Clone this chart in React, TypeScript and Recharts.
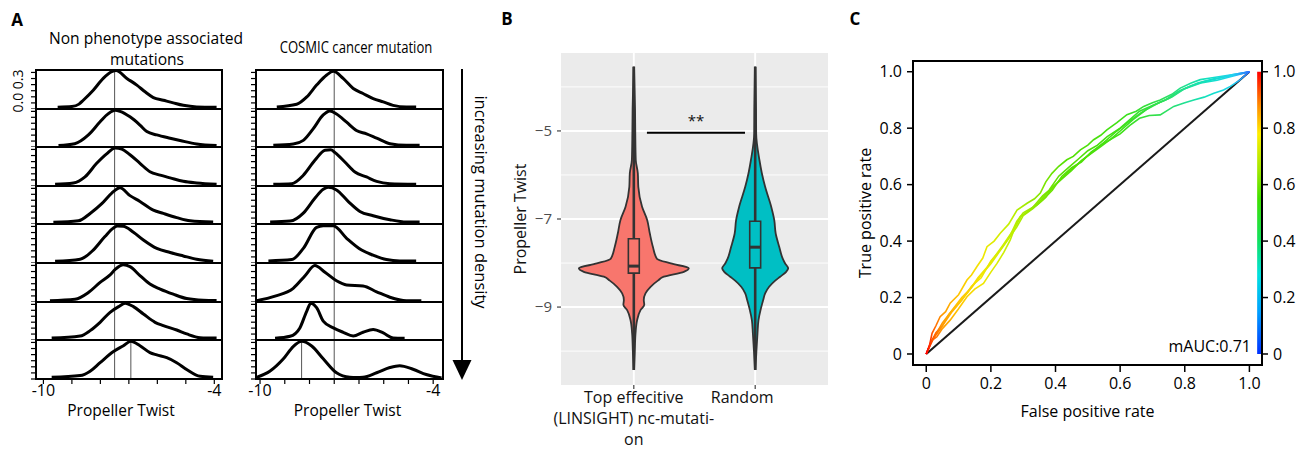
import React from 'react';
import {
  LineChart,
  Line,
  ComposedChart,
  Area,
  XAxis,
  YAxis,
  CartesianGrid,
  ReferenceLine,
  ReferenceArea,
  Label,
} from 'recharts';

const FONT = '"Open Sans", "DejaVu Sans", sans-serif';

type Pt = [number, number];

// ---------- Panel A: propeller-twist densities, low -> high mutation density ----------
const nonPheno1: Pt[] = [[-9.5,0.015],[-9.0,0.02],[-8.75,0.04],[-8.6,0.072],[-8.25,0.154],[-7.9,0.251],[-7.6,0.306],[-7.45,0.315],[-7.07,0.251],[-6.72,0.196],[-6.43,0.141],[-6.14,0.094],[-5.79,0.072],[-5.44,0.05],[-5.09,0.03],[-4.62,0.017],[-3.92,0.014]];
const nonPheno2: Pt[] = [[-9.47,0.012],[-8.9,0.028],[-8.42,0.102],[-8.01,0.212],[-7.72,0.281],[-7.48,0.309],[-7.31,0.3],[-6.96,0.254],[-6.61,0.185],[-6.37,0.13],[-6.02,0.102],[-5.55,0.074],[-5.2,0.055],[-4.62,0.025],[-3.92,0.012]];
const nonPheno3: Pt[] = [[-9.59,0.014],[-8.95,0.025],[-8.54,0.075],[-8.13,0.186],[-7.78,0.264],[-7.48,0.312],[-7.25,0.303],[-6.96,0.256],[-6.61,0.186],[-6.26,0.117],[-5.9,0.089],[-5.55,0.067],[-5.09,0.039],[-4.62,0.025],[-3.92,0.014]];
const nonPheno4: Pt[] = [[-9.65,0.014],[-8.77,0.027],[-8.36,0.089],[-7.95,0.171],[-7.6,0.26],[-7.31,0.305],[-6.96,0.239],[-6.61,0.19],[-6.14,0.117],[-5.79,0.089],[-5.32,0.054],[-4.85,0.027],[-4.04,0.016]];
const nonPheno5: Pt[] = [[-9.59,0.014],[-8.71,0.031],[-8.25,0.106],[-7.84,0.217],[-7.54,0.287],[-7.4,0.303],[-7.2,0.302],[-6.84,0.253],[-6.49,0.189],[-6.02,0.12],[-5.55,0.086],[-5.09,0.058],[-4.62,0.031],[-4.04,0.014]];
const nonPheno6: Pt[] = [[-9.77,0.01],[-8.89,0.022],[-8.42,0.078],[-8.01,0.161],[-7.66,0.223],[-7.48,0.267],[-7.19,0.305],[-6.96,0.29],[-6.61,0.217],[-6.26,0.147],[-5.9,0.106],[-5.44,0.064],[-4.97,0.028],[-4.39,0.014],[-3.92,0.012]];
const nonPheno7: Pt[] = [[-9.71,0.016],[-8.71,0.033],[-8.36,0.079],[-8.01,0.149],[-7.66,0.233],[-7.36,0.281],[-7.13,0.309],[-6.84,0.281],[-6.49,0.219],[-6.08,0.149],[-5.79,0.121],[-5.32,0.084],[-4.97,0.051],[-4.5,0.02],[-3.92,0.016]];
const nonPheno8: Pt[] = [[-9.71,0.014],[-8.71,0.028],[-8.36,0.064],[-8.01,0.134],[-7.54,0.225],[-7.19,0.273],[-6.93,0.309],[-6.61,0.273],[-6.26,0.217],[-6.02,0.198],[-5.67,0.175],[-5.32,0.134],[-4.97,0.078],[-4.5,0.022],[-4.04,0.014]];

const cosmic1: Pt[] = [[-9.42,0.017],[-8.73,0.039],[-8.38,0.099],[-8.04,0.196],[-7.69,0.279],[-7.46,0.309],[-7.12,0.251],[-6.77,0.168],[-6.43,0.127],[-6.08,0.086],[-5.73,0.058],[-5.39,0.03],[-4.93,0.017],[-4.59,0.017]];
const cosmic2: Pt[] = [[-9.54,0.014],[-8.85,0.025],[-8.5,0.056],[-8.16,0.153],[-7.81,0.27],[-7.58,0.303],[-7.35,0.278],[-7.0,0.209],[-6.66,0.139],[-6.31,0.111],[-5.96,0.075],[-5.5,0.028],[-4.93,0.014],[-4.47,0.014]];
const cosmic3: Pt[] = [[-9.54,0.014],[-8.9,0.019],[-8.5,0.088],[-8.1,0.211],[-7.75,0.293],[-7.55,0.298],[-7.4,0.274],[-7.06,0.197],[-6.71,0.115],[-6.31,0.074],[-5.96,0.038],[-5.5,0.019],[-4.59,0.014]];
const cosmic4: Pt[] = [[-9.65,0.017],[-8.96,0.025],[-8.5,0.092],[-8.1,0.217],[-7.81,0.292],[-7.64,0.309],[-7.35,0.287],[-6.94,0.189],[-6.54,0.106],[-6.08,0.07],[-5.5,0.036],[-4.93,0.017],[-4.47,0.017]];
const cosmic5: Pt[] = [[-9.71,0.017],[-8.9,0.028],[-8.5,0.12],[-8.04,0.292],[-7.81,0.306],[-7.46,0.306],[-7.0,0.203],[-6.48,0.106],[-6.08,0.064],[-5.62,0.028],[-5.16,0.017],[-4.59,0.017]];
const cosmic6: Pt[] = [[-10.12,0.011],[-9.48,0.048],[-8.85,0.112],[-8.44,0.216],[-8.1,0.3],[-7.75,0.244],[-7.35,0.174],[-7.0,0.14],[-6.43,0.132],[-5.96,0.084],[-5.5,0.039],[-4.93,0.011],[-4.41,0.011]];
const cosmic7: Pt[] = [[-9.48,0.014],[-8.96,0.031],[-8.62,0.102],[-8.38,0.244],[-8.24,0.309],[-8.04,0.272],[-7.81,0.159],[-7.46,0.102],[-7.12,0.065],[-6.77,0.034],[-6.43,0.065],[-6.08,0.088],[-5.73,0.059],[-5.39,0.017],[-4.99,0.014]];
const cosmic8: Pt[] = [[-10.12,0.014],[-9.65,0.066],[-9.19,0.166],[-8.85,0.266],[-8.56,0.309],[-8.21,0.271],[-7.81,0.166],[-7.35,0.051],[-6.89,0.014],[-6.66,0.012],[-6.43,0.014],[-5.96,0.051],[-5.5,0.094],[-5.16,0.109],[-4.7,0.08],[-4.24,0.037],[-3.71,0.009]];

const nonPhenoRows = [nonPheno1, nonPheno2, nonPheno3, nonPheno4, nonPheno5, nonPheno6, nonPheno7, nonPheno8];
const cosmicRows = [cosmic1, cosmic2, cosmic3, cosmic4, cosmic5, cosmic6, cosmic7, cosmic8];

const densityTicks = [0, 0.05, 0.1, 0.15, 0.2, 0.25, 0.3];
const nonPhenoTicks = [-10, -9, -8, -7, -6, -5, -4];
const cosmicTicks = [-10, -9.143, -8.286, -7.429, -6.571, -5.714, -4.857, -4];
const nonPhenoCenter = -7.5;
const cosmicCenter = -7.43;
const nonPhenoLastPeak = -6.93;
const cosmicLastPeak = -8.56;

// ---------- Panel B: violin half-widths along propeller twist ----------
const violinY = [-10.43, -10.0, -9.6, -9.3, -9.07, -8.95, -8.84, -8.69, -8.54, -8.4, -8.31, -8.2, -8.12, -8.01, -7.9, -7.63, -7.33, -7.02, -6.72, -6.27, -5.96, -5.66, -5.05, -4.5, -3.54];
const topEffectiveWidth = [0.002, 0.008, 0.014, 0.027, 0.055, 0.086, 0.082, 0.096, 0.138, 0.198, 0.247, 0.412, 0.453, 0.305, 0.19, 0.157, 0.132, 0.11, 0.068, 0.037, 0.033, 0.016, 0.012, 0.01, 0.002];
const randomWidth = [0.002, 0.01, 0.019, 0.027, 0.044, 0.055, 0.066, 0.082, 0.115, 0.165, 0.206, 0.255, 0.272, 0.247, 0.227, 0.198, 0.169, 0.157, 0.132, 0.082, 0.055, 0.035, 0.008, 0.007, 0.002];
const violinCategories = ['Top effecitive (LINSIGHT) nc-mutation', 'Random'];
const categoryLines = [['Top effecitive', '(LINSIGHT) nc-mutati-', 'on'], ['Random']];
// five-number summaries: [min, q1, median, q3, max]
const topEffectiveBox = [-10.43, -8.23, -8.07, -7.45, -3.54];
const randomBox = [-10.43, -8.11, -7.64, -7.05, -3.54];
const significance = { from: 1.108, to: 1.916, y: -5.04, label: '**' };

// ---------- Panel C: ROC curves of five folds ----------
const roc1: Pt[] = [[0,0],[0.01,0.03],[0.018,0.073],[0.03,0.1],[0.043,0.132],[0.06,0.15],[0.074,0.18],[0.1,0.21],[0.126,0.262],[0.14,0.28],[0.157,0.31],[0.175,0.34],[0.188,0.38],[0.21,0.4],[0.229,0.428],[0.255,0.46],[0.281,0.51],[0.312,0.534],[0.335,0.55],[0.353,0.57],[0.37,0.61],[0.389,0.64],[0.41,0.665],[0.435,0.688],[0.455,0.7],[0.477,0.723],[0.5,0.74],[0.518,0.759],[0.54,0.775],[0.559,0.794],[0.59,0.82],[0.621,0.848],[0.65,0.86],[0.673,0.877],[0.7,0.89],[0.724,0.9],[0.76,0.92],[0.786,0.942],[0.82,0.96],[0.848,0.972],[0.88,0.978],[0.91,0.983],[0.95,0.99],[1,1]];
const roc2: Pt[] = [[0,0],[0.015,0.04],[0.03,0.075],[0.05,0.1],[0.08,0.15],[0.11,0.19],[0.14,0.24],[0.17,0.27],[0.2,0.33],[0.23,0.37],[0.26,0.42],[0.28,0.47],[0.3,0.5],[0.33,0.52],[0.36,0.56],[0.38,0.58],[0.41,0.63],[0.44,0.66],[0.47,0.69],[0.5,0.72],[0.53,0.74],[0.56,0.77],[0.6,0.8],[0.63,0.83],[0.66,0.86],[0.7,0.88],[0.74,0.9],[0.78,0.93],[0.82,0.95],[0.86,0.965],[0.9,0.975],[0.95,0.99],[1,1]];
const roc3: Pt[] = [[0,0],[0.02,0.05],[0.033,0.061],[0.05,0.09],[0.074,0.12],[0.1,0.16],[0.126,0.203],[0.15,0.23],[0.177,0.25],[0.2,0.29],[0.219,0.321],[0.24,0.36],[0.26,0.404],[0.275,0.45],[0.291,0.487],[0.31,0.5],[0.332,0.522],[0.35,0.54],[0.374,0.57],[0.4,0.6],[0.435,0.64],[0.46,0.665],[0.497,0.7],[0.53,0.73],[0.559,0.759],[0.59,0.79],[0.621,0.818],[0.663,0.853],[0.7,0.88],[0.75,0.905],[0.79,0.935],[0.84,0.96],[0.89,0.975],[0.94,0.985],[1,1]];
const roc4: Pt[] = [[0,0],[0.012,0.035],[0.025,0.06],[0.045,0.09],[0.07,0.14],[0.1,0.18],[0.13,0.22],[0.16,0.27],[0.19,0.31],[0.215,0.35],[0.24,0.39],[0.27,0.44],[0.295,0.49],[0.32,0.51],[0.345,0.53],[0.37,0.555],[0.39,0.59],[0.42,0.62],[0.45,0.65],[0.48,0.685],[0.51,0.71],[0.54,0.735],[0.57,0.76],[0.6,0.79],[0.64,0.83],[0.68,0.865],[0.72,0.89],[0.76,0.91],[0.8,0.94],[0.85,0.96],[0.9,0.97],[0.95,0.985],[1,1]];
const roc5: Pt[] = [[0,0],[0.015,0.045],[0.03,0.07],[0.05,0.11],[0.08,0.155],[0.11,0.2],[0.14,0.235],[0.17,0.28],[0.2,0.32],[0.225,0.36],[0.25,0.4],[0.28,0.45],[0.3,0.49],[0.33,0.515],[0.36,0.545],[0.39,0.58],[0.42,0.63],[0.45,0.66],[0.48,0.68],[0.51,0.715],[0.54,0.74],[0.57,0.76],[0.6,0.78],[0.63,0.81],[0.66,0.835],[0.69,0.845],[0.724,0.847],[0.766,0.877],[0.8,0.89],[0.828,0.9],[0.86,0.91],[0.89,0.924],[0.92,0.935],[0.941,0.948],[0.97,0.97],[1,1]];
const rocFolds = [roc1, roc2, roc3, roc4, roc5];
const rateTicks = [0, 0.2, 0.4, 0.6, 0.8, 1];
const meanAuc = 0.71;

// jet palette used for the threshold colouring
const jetAlongCurve: [number, string][] = [[0,'#ff0000'],[0.02,'#ff5a00'],[0.05,'#ff9a00'],[0.1,'#ffc400'],[0.17,'#f2e600'],[0.25,'#c8f000'],[0.33,'#92e800'],[0.42,'#58e000'],[0.6,'#3ee014'],[0.72,'#30e050'],[0.8,'#20e092'],[0.88,'#10e0c8'],[0.95,'#20d0f0'],[1,'#2a6cff']];
const jetBar: [number, string][] = [[0,'#ff0000'],[0.12,'#ff8c00'],[0.22,'#ffee00'],[0.35,'#a0e800'],[0.45,'#40e000'],[0.6,'#10e060'],[0.72,'#00e0e0'],[0.85,'#00a0ff'],[1,'#0030ff']];

// ---------- layout ----------
const rowEdges = [70, 109, 147, 186, 224, 263, 302, 340, 379];
const AX_W = 8;

const Txt = ({ x, y, size = 15, weight = 400, rotate = 0, sx = 1, anchor = 'middle', color = '#000', children }: any) => {
  const tx = anchor === 'end' ? '-100%' : anchor === 'start' ? '0' : '-50%';
  return (
    <div
      style={{
        position: 'absolute', left: x, top: y, fontSize: size, fontWeight: weight, color,
        whiteSpace: 'nowrap', lineHeight: 1, fontFamily: FONT,
        transform: `translate(${tx}, -50%) rotate(${rotate}deg) scaleX(${sx})`,
      }}
    >
      {children}
    </div>
  );
};

function DensityColumn({ rows, left, width, domain, ticks, centerLine, lastPeak, labelDx }: any) {
  return (
    <>
      {rows.map((pts: Pt[], i: number) => {
        const top = rowEdges[i];
        const h = rowEdges[i + 1] - top;
        const last = i === rows.length - 1;
        const data = pts.map(([x, d]) => ({ x, d }));
        return (
          <div key={i} style={{ position: 'absolute', left: left - AX_W, top }}>
            <LineChart width={width + AX_W} height={last ? h + 44 : h} data={data} margin={{ top: 0, right: 0, bottom: 0, left: 0 }}>
              <XAxis
                dataKey="x" type="number" domain={domain} allowDataOverflow ticks={ticks} interval={0}
                hide={!last} height={44} tickSize={5} tickMargin={1} axisLine={false}
                tickLine={{ stroke: '#000', strokeWidth: 1.2 }}
                tick={{ fontSize: 16, fill: '#000', fontFamily: FONT }}
                tickFormatter={(v: number) => (v === -10 ? '-10' : v === -4 ? '-4' : '')}
              >
                <Label value="Propeller Twist" position="insideBottom" offset={7} dx={labelDx} style={{ fontSize: 15.5, fill: '#000', fontFamily: FONT }} />
              </XAxis>
              <YAxis
                type="number" domain={[0, 0.32]} allowDataOverflow ticks={densityTicks} interval={0}
                width={AX_W} tickSize={5} axisLine={false}
                tickLine={{ stroke: '#000', strokeWidth: 1.2 }} tickFormatter={() => ''}
              />
              <ReferenceLine x={centerLine} stroke="#555" strokeWidth={1} />
              {last && <ReferenceLine x={lastPeak} stroke="#555" strokeWidth={1} />}
              <Line dataKey="d" type="monotone" stroke="#000" strokeWidth={3} dot={false} isAnimationActive={false} />
            </LineChart>
            <div
              style={{
                position: 'absolute', left: AX_W - 1, top: -1, width: width + 2, height: h + 2,
                border: '2px solid #000', boxSizing: 'border-box', pointerEvents: 'none',
              }}
            />
          </div>
        );
      })}
    </>
  );
}

const violinData = violinY.map((y, i) => ({
  y,
  top: [1 - topEffectiveWidth[i], 1 + topEffectiveWidth[i]],
  rand: [2 - randomWidth[i], 2 + randomWidth[i]],
}));

const CategoryTick = (props: any) => {
  const { x, y, payload } = props;
  const idx = Math.round(payload.value) - 1;
  const lines = categoryLines[idx] || [violinCategories[idx]];
  const dx = idx === 1 ? -13 : 0;
  return (
    <g>
      {lines.map((ln: string, k: number) => (
        <text key={k} x={x + dx} y={y + 12 + k * 21} textAnchor="middle" fontSize={16} fill="#111" fontFamily={FONT}>
          {ln}
        </text>
      ))}
    </g>
  );
};

function ViolinBox({ pos, box, fill }: { pos: number; box: number[]; fill: string }) {
  const hw = 0.045;
  return (
    <>
      <ReferenceLine segment={[{ x: pos, y: box[0] }, { x: pos, y: box[1] }]} stroke="#333" strokeWidth={2.6} zIndex={300} />
      <ReferenceLine segment={[{ x: pos, y: box[3] }, { x: pos, y: box[4] }]} stroke="#333" strokeWidth={2.6} zIndex={300} />
      <ReferenceArea x1={pos - hw} x2={pos + hw} y1={box[1]} y2={box[3]} fill={fill} fillOpacity={1} stroke="#333" strokeWidth={1.6} zIndex={310} />
      <ReferenceLine segment={[{ x: pos - hw, y: box[2] }, { x: pos + hw, y: box[2] }]} stroke="#333" strokeWidth={3} zIndex={320} />
    </>
  );
}

export default function App() {
  const fmtRate = (v: number) => (v === 0 ? '0' : v.toFixed(1));
  return (
    <div style={{ position: 'absolute', left: 0, top: 0, width: 1304, height: 450, background: '#fff', overflow: 'hidden', fontFamily: FONT }}>
      {/* panel letters and headings */}
      <Txt x={17} y={19} size={17} weight={700}>A</Txt>
      <Txt x={507} y={18} size={17} weight={700}>B</Txt>
      <Txt x={855} y={18} size={17} weight={700}>C</Txt>
      <Txt x={146} y={39} size={15.6}>Non phenotype associated</Txt>
      <Txt x={147} y={60} size={15.6}>mutations</Txt>
      <Txt x={356} y={48} size={15.6} sx={0.84}>COSMIC cancer mutation</Txt>
      <Txt x={18} y={91} size={14} rotate={-90}>0.0 0.3</Txt>

      {/* Panel A */}
      <DensityColumn rows={nonPhenoRows} left={36} width={186} domain={[-10.26, -3.73]} ticks={nonPhenoTicks} centerLine={nonPhenoCenter} lastPeak={nonPhenoLastPeak} labelDx={-8} />
      <DensityColumn rows={cosmicRows} left={256} width={187} domain={[-10.14, -3.66]} ticks={cosmicTicks} centerLine={cosmicCenter} lastPeak={cosmicLastPeak} labelDx={-2} />

      <svg style={{ position: 'absolute', left: 440, top: 60 }} width={60} height={330}>
        <line x1={22} y1={9} x2={22} y2={305} stroke="#000" strokeWidth={2} />
        <polygon points="12.5,300 31.5,300 22,320" fill="#000" />
        <text transform="translate(41,142) rotate(90)" textAnchor="middle" dominantBaseline="central" fontSize={16.5} fontFamily={FONT} fill="#000">
          increasing mutation density
        </text>
      </svg>

      {/* Panel B */}
      <div style={{ position: 'absolute', left: 500, top: 30 }}>
        <ComposedChart layout="vertical" width={340} height={420} data={violinData} margin={{ top: 23, right: 12, bottom: 0, left: 0 }}>
          <CartesianGrid fill="#EBEBEB" stroke="#fff" strokeWidth={0.9} vertical={false} horizontalValues={[-10, -8, -6, -4]} />
          <CartesianGrid stroke="#fff" strokeWidth={1.9} horizontalValues={[-9, -7, -5]} verticalValues={[1, 2]} />
          <XAxis
            type="number" domain={[0.4, 2.6]} allowDataOverflow ticks={[1, 2]} interval={0}
            height={65} tickSize={4} axisLine={false} tickLine={{ stroke: '#333', strokeWidth: 1.1 }}
            tick={(p: any) => <CategoryTick {...p} />}
          />
          <YAxis
            type="number" dataKey="y" domain={[-10.77, -3.23]} allowDataOverflow reversed ticks={[-9, -7, -5]} interval={0}
            width={61} tickSize={4} tickMargin={5} axisLine={false} tickLine={{ stroke: '#333', strokeWidth: 1.1 }}
            tick={{ fontSize: 15, fill: '#4D4D4D', fontFamily: FONT }}
            tickFormatter={(v: number) => `\u2212${Math.abs(v)}`}
          >
            <Label value="Propeller Twist" angle={-90} position="insideLeft" offset={20} style={{ textAnchor: 'middle', fontSize: 16, fill: '#111', fontFamily: FONT }} />
          </YAxis>
          <Area dataKey="top" type="monotone" fill="#F8766D" fillOpacity={1} stroke="#333" strokeWidth={1.8} isAnimationActive={false} zIndex={100} />
          <Area dataKey="rand" type="monotone" fill="#00BFC4" fillOpacity={1} stroke="#333" strokeWidth={1.8} isAnimationActive={false} zIndex={100} />
          {ViolinBox({ pos: 1, box: topEffectiveBox, fill: '#F8766D' })}
          {ViolinBox({ pos: 2, box: randomBox, fill: '#00BFC4' })}
          <ReferenceLine
            segment={[{ x: significance.from, y: significance.y }, { x: significance.to, y: significance.y }]}
            stroke="#000" strokeWidth={2} zIndex={330}
            label={{ value: significance.label, position: 'top', offset: 7, fontSize: 15, fill: '#111', fontFamily: FONT }}
          />
        </ComposedChart>
      </div>

      {/* Panel C */}
      <div style={{ position: 'absolute', left: 840, top: 40 }}>
        <ComposedChart width={464} height={410} margin={{ top: 21, right: 0, bottom: 33, left: 18 }}>
          <defs>
            <linearGradient id="rocJet" x1="0" y1="0" x2="1" y2="0">
              {jetAlongCurve.map(([o, c]) => <stop key={o} offset={o} stopColor={c} />)}
            </linearGradient>
            <linearGradient id="barJet" x1="0" y1="0" x2="0" y2="1">
              {jetBar.map(([o, c]) => <stop key={o} offset={o} stopColor={c} />)}
            </linearGradient>
          </defs>
          <XAxis
            type="number" dataKey="fpr" domain={[-0.041, 1.039]} allowDataOverflow ticks={rateTicks} interval={0}
            height={52} tickSize={7} tickMargin={6} axisLine={false} tickLine={{ stroke: '#000', strokeWidth: 1.5 }}
            tick={{ fontSize: 16, fill: '#000', fontFamily: FONT }} tickFormatter={fmtRate}
          >
            <Label value="False positive rate" position="insideBottom" offset={0} style={{ fontSize: 16, fill: '#000', fontFamily: FONT }} />
          </XAxis>
          <YAxis
            yAxisId="l" type="number" domain={[-0.039, 1.038]} allowDataOverflow ticks={rateTicks} interval={0}
            width={55} tickSize={6} tickMargin={5} axisLine={false} tickLine={{ stroke: '#000', strokeWidth: 1.5 }}
            tick={{ fontSize: 16, fill: '#000', fontFamily: FONT }} tickFormatter={fmtRate}
          >
            <Label value="True positive rate" angle={-90} position="insideLeft" offset={7} style={{ textAnchor: 'middle', fontSize: 16, fill: '#000', fontFamily: FONT }} />
          </YAxis>
          <YAxis
            yAxisId="r" orientation="right" type="number" domain={[-0.039, 1.038]} allowDataOverflow ticks={rateTicks} interval={0}
            width={42} tickSize={6} tickMargin={5} axisLine={false} tickLine={{ stroke: '#000', strokeWidth: 1.5 }}
            tick={{ fontSize: 16, fill: '#000', fontFamily: FONT, textAnchor: 'start' }} tickFormatter={fmtRate}
          />
          <ReferenceLine yAxisId="l" segment={[{ x: 0, y: 0 }, { x: 1, y: 1 }]} stroke="#1a1a1a" strokeWidth={2} />
          {rocFolds.map((fold, i) => (
            <Line
              key={i} yAxisId="l" data={fold.map(([fpr, tpr]) => ({ fpr, tpr }))} dataKey="tpr" type="linear"
              stroke="url(#rocJet)" strokeWidth={1.6} dot={false} isAnimationActive={false}
            />
          ))}
          <ReferenceArea yAxisId="l" x1={1.024} x2={1.039} y1={0} y2={1} fill="url(#barJet)" fillOpacity={1} stroke="none" ifOverflow="visible" />
          <ReferenceArea yAxisId="l" x1={-0.041} x2={1.039} y1={-0.039} y2={1.038} fill="none" stroke="#000" strokeWidth={2} ifOverflow="visible" />
        </ComposedChart>
      </div>
      <Txt x={1251} y={346} size={16} anchor="end">{`mAUC:${meanAuc}`}</Txt>
    </div>
  );
}
